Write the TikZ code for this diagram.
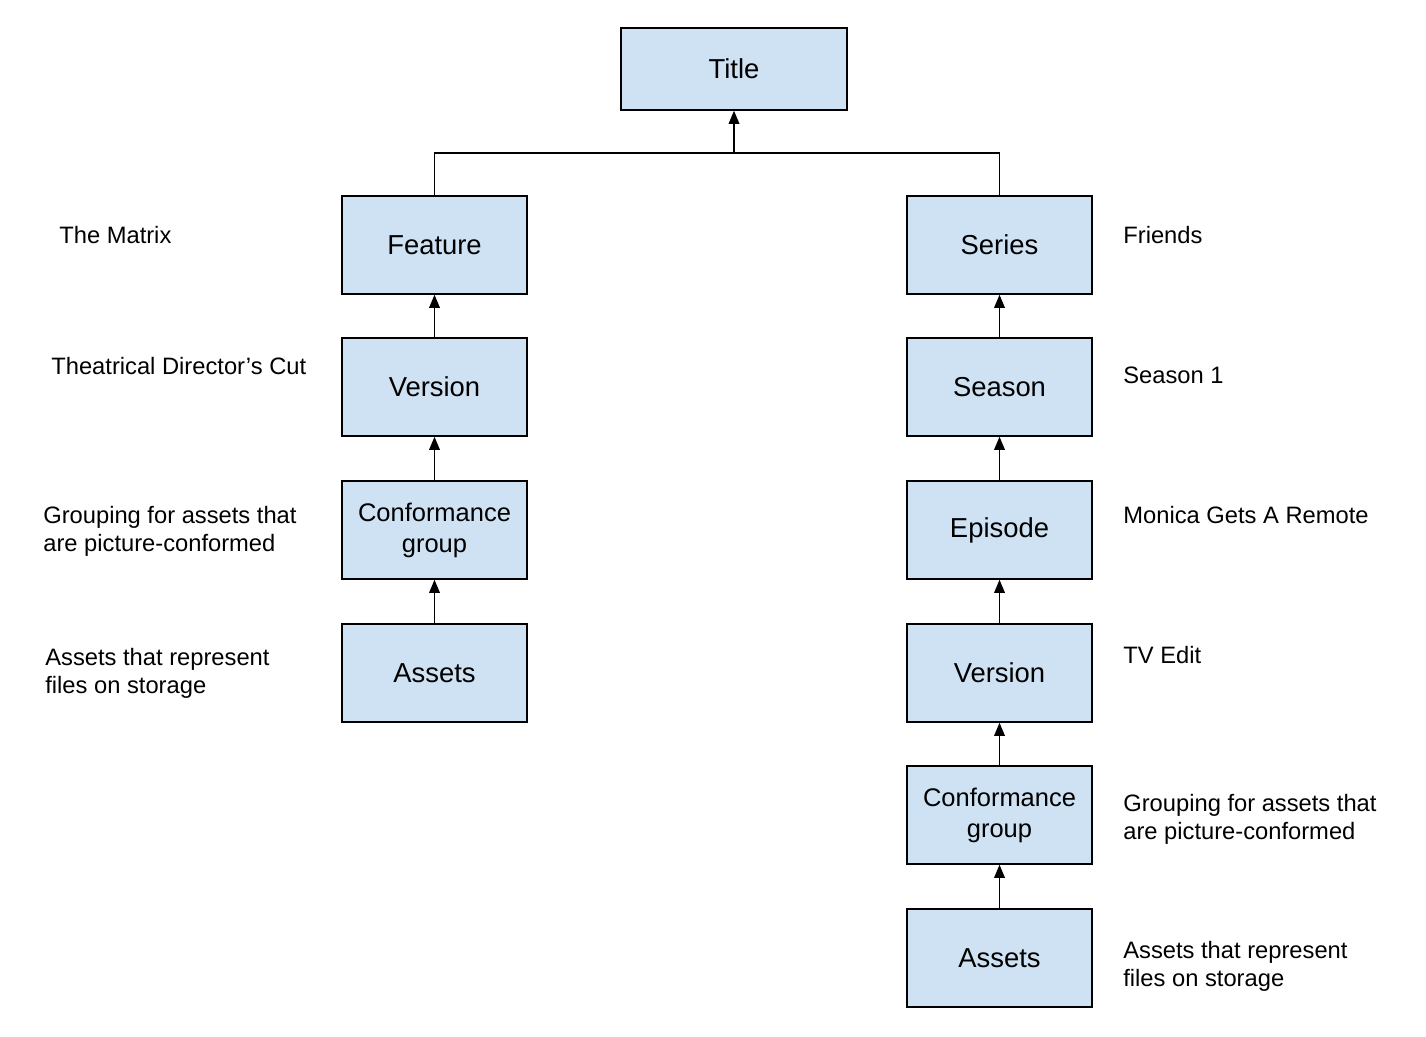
\documentclass[tikz,border=0pt]{standalone}
\usepackage{fontspec}
\setmainfont{Liberation Sans}
\usetikzlibrary{arrows.meta}
\definecolor{boxblue}{HTML}{CFE2F3}
\tikzset{
	entity/.style={draw=black, line width=0.8pt, fill=boxblue, minimum width=3.7cm, minimum height=1.96cm, align=center, font=\fontsize{15.6}{17.6}\selectfont},
	groupbox/.style={entity, font=\fontsize{14.5}{17.6}\selectfont},
	note/.style={anchor=west, inner sep=0pt, align=left, font=\fontsize{13.5}{15.9}\selectfont},
	link/.style={line width=1pt, -{Triangle[length=7.5pt, width=6pt]}}
}
\begin{document}
\begin{tikzpicture}
	\useasboundingbox (0,0) rectangle (28.52,20.72);
	\node[entity, minimum width=4.52cm, minimum height=1.64cm] (title) at (14.68,19.34) {Title};
	\node[entity] (feature) at (8.69,15.82) {Feature};
	\node[entity] (fversion) at (8.69,12.98) {Version};
	\node[groupbox] (fgroup) at (8.69,10.12) {Conformance\\group};
	\node[entity] (fassets) at (8.69,7.26) {Assets};
	\node[entity] (series) at (19.99,15.82) {Series};
	\node[entity] (season) at (19.99,12.98) {Season};
	\node[entity] (episode) at (19.99,10.12) {Episode};
	\node[entity] (sversion) at (19.99,7.26) {Version};
	\node[groupbox] (sgroup) at (19.99,4.42) {Conformance\\group};
	\node[entity] (sassets) at (19.99,1.56) {Assets};
	\coordinate (bus) at (14.68,17.66);
	\draw[line width=1pt] (feature.north) |- (bus) -| (series.north);
	\draw[link] (bus) -- (title.south);
	\draw[link] (fversion) -- (feature);
	\draw[link] (fgroup) -- (fversion);
	\draw[link] (fassets) -- (fgroup);
	\draw[link] (season) -- (series);
	\draw[link] (episode) -- (season);
	\draw[link] (sversion) -- (episode);
	\draw[link] (sgroup) -- (sversion);
	\draw[link] (sassets) -- (sgroup);
	\node[note] (matrix) at (1.18,16.02) {The Matrix};
	\node[note] (cut) at (1.02,13.4) {Theatrical Director’s Cut};
	\node[note] (fgroupnote) at (0.86,10.1) {Grouping for assets that\\are picture-conformed};
	\node[note] (fassetsnote) at (0.9,7.26) {Assets that represent\\files on storage};
	\node[note] (friends) at (22.46,16.02) {Friends};
	\node[note] (season1) at (22.46,13.22) {Season 1};
	\node[note] (monica) at (22.46,10.42) {Monica Gets A Remote};
	\node[note] (tvedit) at (22.46,7.62) {TV Edit};
	\node[note] (sgroupnote) at (22.46,4.34) {Grouping for assets that\\are picture-conformed};
	\node[note] (sassetsnote) at (22.46,1.4) {Assets that represent\\files on storage};
\end{tikzpicture}
\end{document}
